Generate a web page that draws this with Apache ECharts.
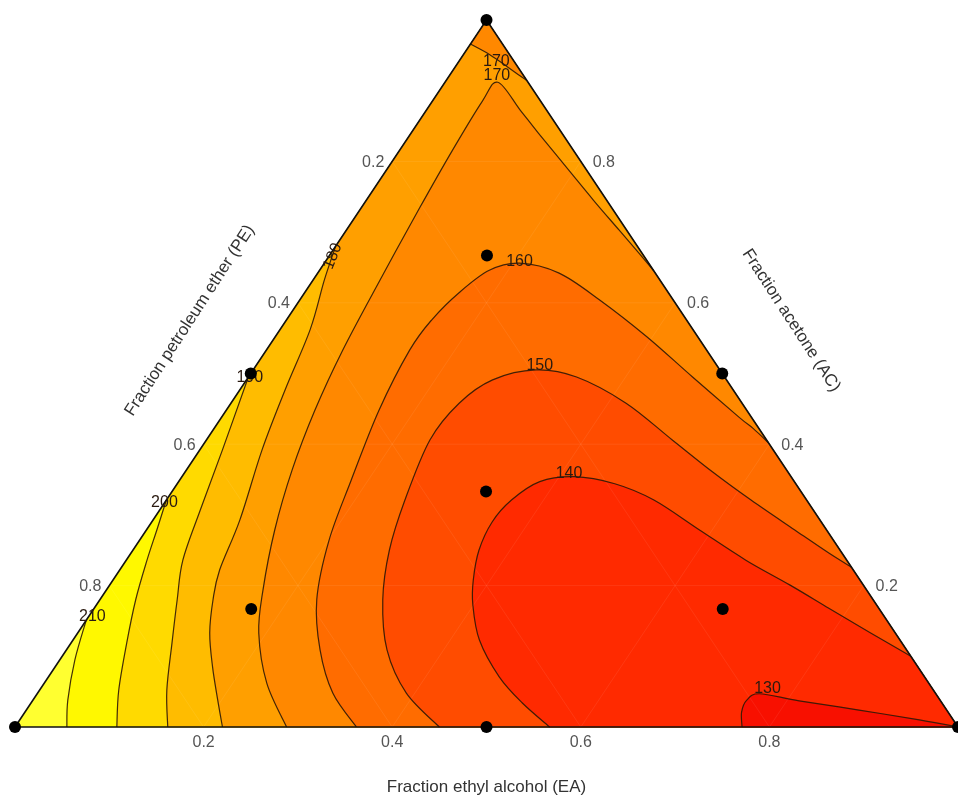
<!DOCTYPE html>
<html>
<head>
<meta charset="utf-8">
<title>Ternary contour</title>
<script src="https://cdn.jsdelivr.net/npm/echarts@6/dist/echarts.min.js"></script>
<style>
  html, body { margin: 0; padding: 0; background: #fff; }
  #chart { width: 958px; height: 798px; }
</style>
</head>
<body>
<div id="chart"></div>
<script>
// every point is [EA, AC], PE = 1 - EA - AC
const tickValues = [0.2, 0.4, 0.6, 0.8];

const designPoints = [
  [0, 1], [0, 0], [1, 0],
  [0, 0.5], [0.5, 0.5], [0.5, 0],
  [0.167, 0.667], [0.333, 0.333], [0.167, 0.167], [0.667, 0.167]
];

// contour lines
const c210 = [[0, 0.151], [0.016, 0.095], [0.037, 0.038], [0.055, 0]];
const c200 = [[0, 0.321], [0.011, 0.279], [0.022, 0.236], [0.038, 0.180], [0.059, 0.119], [0.084, 0.052], [0.108, 0]];
const c190 = [[0, 0.495], [0.024, 0.392], [0.043, 0.307], [0.060, 0.236], [0.082, 0.180], [0.107, 0.119], [0.135, 0.052], [0.162, 0]];
const c180 = [[0, 0.680], [0.012, 0.632], [0.032, 0.562], [0.048, 0.477], [0.066, 0.392], [0.092, 0.293],
  [0.106, 0.222], [0.120, 0.180], [0.140, 0.133], [0.167, 0.085], [0.196, 0.038], [0.220, 0]];
const c170top = [[0, 0.966], [0.028, 0.951], [0.055, 0.934], [0.075, 0.921], [0.085, 0.915]];
const c170 = [[0.354, 0.646], [0.329, 0.668], [0.289, 0.703], [0.241, 0.745], [0.193, 0.788], [0.135, 0.840],
  [0.099, 0.873], [0.056, 0.912], [0.053, 0.885], [0.056, 0.816], [0.062, 0.734], [0.071, 0.632],
  [0.081, 0.533], [0.094, 0.448], [0.112, 0.364], [0.136, 0.279], [0.166, 0.194], [0.192, 0.133],
  [0.236, 0.062], [0.288, 0]];
const c160 = [[0.598, 0.402], [0.572, 0.422], [0.549, 0.438], [0.471, 0.495], [0.394, 0.552], [0.318, 0.604],
  [0.256, 0.642], [0.207, 0.656], [0.180, 0.646], [0.164, 0.615], [0.154, 0.576], [0.152, 0.533],
  [0.162, 0.448], [0.182, 0.349], [0.201, 0.264], [0.230, 0.180], [0.269, 0.109], [0.313, 0.048], [0.362, 0]];
const c150 = [[0.774, 0.226], [0.740, 0.246], [0.687, 0.279], [0.620, 0.321], [0.559, 0.361], [0.494, 0.406],
  [0.419, 0.458], [0.348, 0.495], [0.300, 0.505], [0.261, 0.491], [0.242, 0.458], [0.237, 0.406],
  [0.253, 0.321], [0.272, 0.250], [0.300, 0.180], [0.340, 0.109], [0.391, 0.048], [0.450, 0]];
const c140 = [[0.900, 0.100], [0.839, 0.134], [0.779, 0.168], [0.721, 0.201], [0.657, 0.236], [0.586, 0.279],
  [0.517, 0.321], [0.464, 0.344], [0.416, 0.354], [0.383, 0.347], [0.366, 0.321], [0.361, 0.290],
  [0.367, 0.250], [0.382, 0.208], [0.399, 0.173], [0.431, 0.123], [0.478, 0.071], [0.521, 0.034], [0.567, 0]];
const c130 = [[0.771, 0], [0.760, 0.021], [0.757, 0.038], [0.766, 0.047], [0.813, 0.037], [0.883, 0.024], [0.954, 0.010], [1, 0]];

const labelLevels = ['130', '140', '150', '160', '170', '170', '180', '190', '200', '210'];
const labelAnchors = [[0.771, 0.054], [0.408, 0.359], [0.301, 0.511], [0.206, 0.658], [0.040, 0.941],
  [0.050, 0.922], [0.004, 0.666], [0.002, 0.494], [0, 0.317], [0.004, 0.156]];

// fill order: largest "below level" region first
const regions = [
  { line: c210, corners: [[1, 0], [0, 1]], color: '#FFF800' },
  { line: c200, corners: [[1, 0], [0, 1]], color: '#FFDA00' },
  { line: c190, corners: [[1, 0], [0, 1]], color: '#FFBC00' },
  { line: c180, corners: [[1, 0], [0, 1]], color: '#FF9F00' },
  { line: c170top, corners: [[0, 1]], color: '#FF8800' },
  { line: c170, corners: [[1, 0]], color: '#FF8800' },
  { line: c160, corners: [[1, 0]], color: '#FF6C00' },
  { line: c150, corners: [[1, 0]], color: '#FF4C00' },
  { line: c140, corners: [[1, 0]], color: '#FF2A00' },
  { line: c130, corners: [], color: '#F81000' }
];
const topColor = '#FFFF30';
const contourLines = [c210, c200, c190, c180, c170top, c170, c160, c150, c140, c130];

// faint composition grid at the tick values
const gridLines = [];
tickValues.forEach(t => {
  gridLines.push([[t, 0], [t, 1 - t]]);       // EA = t
  gridLines.push([[0, t], [1 - t, t]]);       // AC = t
  gridLines.push([[1 - t, 0], [0, 1 - t]]);   // PE = t
});

const toXY = p => [p[0] + p[1] / 2, p[1]];
const px = (api, p) => api.coord(toXY(p));

function curve(pts) {
  let d = 'M' + pts[0][0] + ' ' + pts[0][1];
  for (let i = 0; i < pts.length - 1; i++) {
    const p0 = pts[i - 1] || pts[i], p1 = pts[i], p2 = pts[i + 1], p3 = pts[i + 2] || p2;
    const c1x = p1[0] + (p2[0] - p0[0]) / 6, c1y = p1[1] + (p2[1] - p0[1]) / 6;
    const c2x = p2[0] - (p3[0] - p1[0]) / 6, c2y = p2[1] - (p3[1] - p1[1]) / 6;
    d += ' C' + c1x + ' ' + c1y + ' ' + c2x + ' ' + c2y + ' ' + p2[0] + ' ' + p2[1];
  }
  return d;
}

// text items: ticks, titles, contour labels
const texts = [];
const tickFont = '16px "Liberation Sans", Arial, sans-serif';
tickValues.forEach(t => {
  texts.push({ p: [t, 0], dx: 0, dy: 16, s: t.toFixed(1), font: tickFont, color: '#555' });
  texts.push({ p: [0, 1 - t], dx: -19, dy: 1, s: t.toFixed(1), font: tickFont, color: '#555' });
  texts.push({ p: [1 - t, t], dx: 23, dy: 1, s: t.toFixed(1), font: tickFont, color: '#555' });
});
const titleFont = '17px "Liberation Sans", Arial, sans-serif';
texts.push({ p: [0.5, 0], dx: 0, dy: 60, s: 'Fraction ethyl alcohol (EA)', font: titleFont, color: '#333' });
texts.push({ p: [0, 0.5], dx: -61, dy: -53, rot: 57, s: 'Fraction petroleum ether (PE)', font: titleFont, color: '#333' });
texts.push({ p: [0.5, 0.5], dx: 69, dy: -53, rot: -57, s: 'Fraction acetone (AC)', font: titleFont, color: '#333' });
labelLevels.forEach((s, i) => {
  texts.push({ p: labelAnchors[i], dx: 0, dy: 0, rot: s === '180' ? 68 : 0, s: s,
    font: '16px "Liberation Sans", Arial, sans-serif', color: '#2a1a10' });
});

const chart = echarts.init(document.getElementById('chart'));
chart.setOption({
  animation: false,
  backgroundColor: '#fff',
  grid: { left: 15, top: 20, width: 944, height: 707 },
  xAxis: { type: 'value', min: 0, max: 1, show: false },
  yAxis: { type: 'value', min: 0, max: 1, show: false },
  series: [
    {
      type: 'custom', z: 1, silent: true,
      data: [[0, 0]],
      renderItem: (params, api) => {
        const a = px(api, [0, 0]), b = px(api, [1, 0]), c = px(api, [0, 1]);
        return { type: 'polygon', shape: { points: [a, b, c] }, style: { fill: topColor } };
      }
    },
    {
      type: 'custom', z: 2, silent: true,
      data: regions.map(() => [0, 0]),
      renderItem: (params, api) => {
        const r = regions[params.dataIndex];
        let d = curve(r.line.map(p => px(api, p)));
        r.corners.forEach(p => { const q = px(api, p); d += ' L' + q[0] + ' ' + q[1]; });
        d += ' Z';
        return { type: 'path', shape: { pathData: d }, style: { fill: r.color, stroke: r.color, lineWidth: 0.5 } };
      }
    },
    {
      type: 'custom', z: 3, silent: true,
      data: gridLines.map(() => [0, 0]),
      renderItem: (params, api) => {
        const g = gridLines[params.dataIndex];
        const a = px(api, g[0]), b = px(api, g[1]);
        return { type: 'line', shape: { x1: a[0], y1: a[1], x2: b[0], y2: b[1] },
          style: { stroke: 'rgba(255,255,255,0.07)', lineWidth: 1 } };
      }
    },
    {
      type: 'custom', z: 4, silent: true,
      data: contourLines.map(() => [0, 0]),
      renderItem: (params, api) => {
        const d = curve(contourLines[params.dataIndex].map(p => px(api, p)));
        return { type: 'path', shape: { pathData: d },
          style: { fill: null, stroke: 'rgba(45,25,5,0.9)', lineWidth: 1.2 } };
      }
    },
    {
      type: 'custom', z: 5, silent: true,
      data: [[0, 0]],
      renderItem: (params, api) => {
        const a = px(api, [0, 0]), b = px(api, [1, 0]), c = px(api, [0, 1]);
        return { type: 'polygon', shape: { points: [a, b, c] },
          style: { fill: null, stroke: '#111', lineWidth: 1.6 } };
      }
    },
    {
      type: 'custom', z: 6, silent: true,
      data: texts.map(() => [0, 0]),
      renderItem: (params, api) => {
        const t = texts[params.dataIndex];
        const q = px(api, t.p);
        return {
          type: 'text', x: q[0] + t.dx, y: q[1] + t.dy,
          rotation: (t.rot || 0) * Math.PI / 180,
          style: { text: t.s, font: t.font, fill: t.color,
            align: 'center', verticalAlign: 'middle', textAlign: 'center', textVerticalAlign: 'middle' }
        };
      }
    },
    {
      type: 'scatter', z: 7, silent: true, clip: false,
      symbol: 'circle', symbolSize: 12,
      itemStyle: { color: '#000', opacity: 1 },
      data: designPoints.map(toXY)
    }
  ]
});
</script>
</body>
</html>
